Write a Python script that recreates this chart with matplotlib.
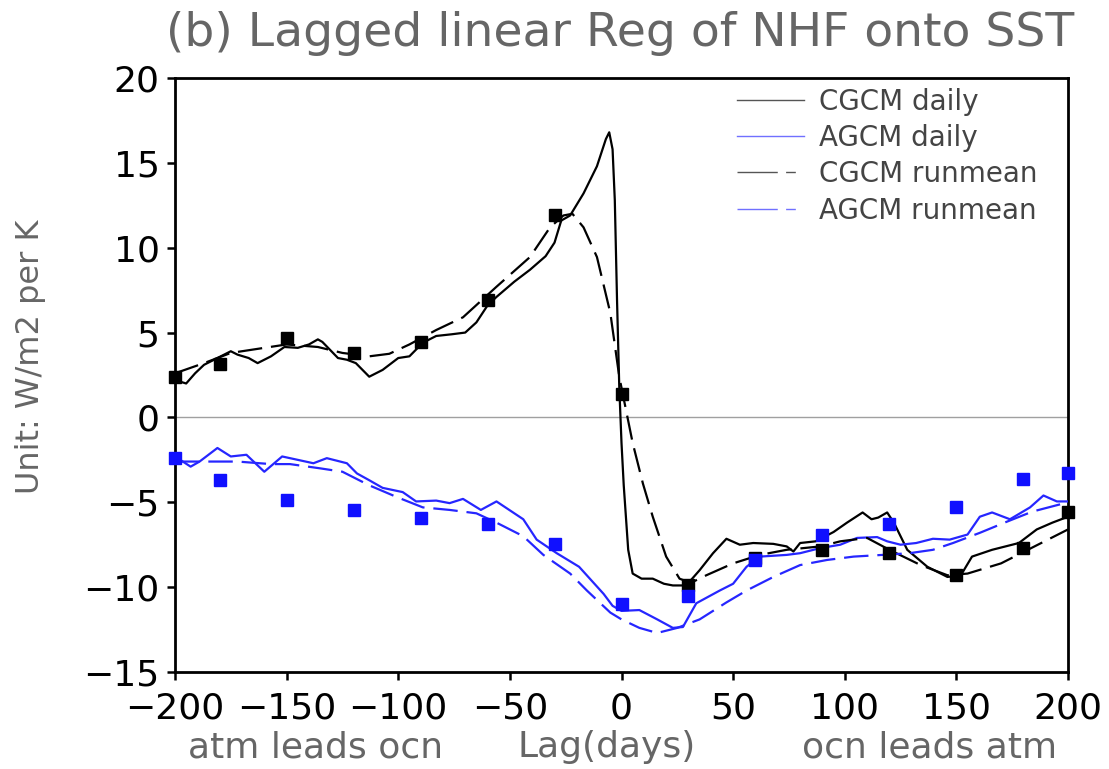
import matplotlib
matplotlib.use("Agg")
import matplotlib.pyplot as plt
from matplotlib.lines import Line2D

# ---------------- data ----------------
cgcm_daily_lag = [-200, -195, -191, -187, -181, -175, -172, -167, -163, -157, -151, -145, -140, -136, -134,
                  -127, -123, -119, -113, -107, -100, -95, -89, -83, -76, -70, -65, -60, -56, -48, -41,
                  -34, -30, -27, -23, -17, -11, -7, -5.5, -4, -3, -2, -1, 0, 1, 3, 5, 9, 14, 19, 23, 29,
                  35, 41, 47, 53, 59, 68, 74, 77, 80, 87, 95, 101, 108, 112, 115, 119, 122, 128, 137,
                  146, 152, 157, 166, 178, 186, 193, 200]
cgcm_daily_val = [2.2, 2.0, 2.6, 3.1, 3.5, 3.9, 3.7, 3.5, 3.2, 3.6, 4.15, 4.1, 4.3, 4.6, 4.45,
                  3.5, 3.4, 3.2, 2.4, 2.8, 3.5, 3.6, 4.4, 4.8, 4.9, 5.0, 5.6, 6.6, 7.1, 8.0, 8.7,
                  9.5, 10.3, 11.6, 11.9, 13.2, 14.8, 16.4, 16.8, 15.8, 12.8, 6.9, 1.8, -1.5, -4.0, -7.8,
                  -9.2, -9.5, -9.5, -9.8, -9.9, -9.9,
                  -9.0, -8.0, -7.15, -7.5, -7.4, -7.45, -7.6, -7.9, -7.4, -7.3, -6.75, -6.2, -5.6, -6.0,
                  -5.9, -5.6, -6.2, -7.8, -8.8, -9.4, -9.3, -8.2, -7.8, -7.4, -6.6, -6.2, -5.85]

agcm_daily_lag = [-200, -193, -189, -181, -175, -168, -160, -152, -138, -132, -123, -118.5, -113, -107,
                  -98, -92, -83, -77, -71, -63, -56, -44, -38, -29, -19, -8, -4, 0, 8, 16, 23, 27.5,
                  33.5, 44, 50, 56, 62, 74, 80, 89, 98, 105.5, 114.5, 119, 125, 132, 139.5, 147, 155,
                  160.5, 166, 174, 183, 189, 195, 200]
agcm_daily_val = [-2.3, -2.9, -2.6, -1.8, -2.3, -2.2, -3.2, -2.3, -2.7, -2.4, -2.7, -3.3, -3.7, -4.15,
                  -4.4, -4.95, -4.9, -5.05, -4.8, -5.45, -4.95, -6.0, -7.2, -8.0, -8.8, -10.4, -11.1,
                  -11.4, -11.35, -11.9, -12.4, -12.35, -10.95, -10.2, -9.8, -8.8, -8.2, -8.1, -8.0,
                  -7.7, -7.5, -7.1, -7.05, -7.3, -7.5, -7.4, -7.15, -7.2, -6.9, -5.85, -5.6, -6.0,
                  -5.3, -4.6, -4.95, -4.95]

cgcm_run_lag = [-200, -187, -175, -165, -150, -136, -125, -113, -104, -95, -83, -71, -56, -41, -32,
                -26, -22, -17, -11, -5, -1, 5, 9.6, 14, 20, 26, 31, 38, 50, 62, 74, 89, 98, 110, 120,
                134, 146, 155, 170, 182, 200]
cgcm_run_val = [2.6, 3.2, 3.8, 4.0, 4.3, 4.15, 3.8, 3.6, 3.75, 4.3, 5.15, 5.9, 7.7, 9.45, 11.2,
                11.9, 12.0, 11.2, 9.45, 6.15, 2.4, -1.5, -3.9, -5.85, -8.2, -9.5, -9.75, -9.3, -8.6,
                -8.1, -7.8, -7.6, -7.3, -7.1, -7.8, -8.7, -9.3, -9.2, -8.6, -7.8, -6.6]

agcm_run_lag = [-200, -184, -172, -157, -148.5, -135, -125, -113, -100.5, -89, -77, -65, -56, -44,
                -35, -23, -15.5, -5, 0, 8, 16, 25, 35, 47, 56, 68, 80, 92, 104, 117, 129, 139.5,
                148.5, 160.5, 172.5, 184, 200]
agcm_run_val = [-2.6, -2.6, -2.6, -2.75, -2.75, -3.0, -3.2, -4.0, -4.7, -5.3, -5.45, -5.65, -6.2, -7.0,
                -8.1, -9.2, -10.2, -11.5, -11.9, -12.4, -12.7, -12.4, -11.9, -10.9, -10.2, -9.4, -8.7,
                -8.4, -8.2, -8.1, -8.0, -7.8, -7.4, -6.8, -6.15, -5.55, -5.0]

mon_lag = [-200, -180, -150, -120, -90, -60, -30, 0, 30, 60, 90, 120, 150, 180, 200]
cgcm_mon = [2.4, 3.15, 4.7, 3.8, 4.45, 6.9, 11.9, 1.4, -9.9, -8.3, -7.8, -8.0, -9.3, -7.7, -5.6]
agcm_mon = [-2.4, -3.7, -4.85, -5.45, -5.9, -6.3, -7.45, -11.0, -10.5, -8.4, -6.9, -6.3, -5.3, -3.6, -3.3]

xticks = [-200, -150, -100, -50, 0, 50, 100, 150, 200]
yticks = [-15, -10, -5, 0, 5, 10, 15, 20]
legend_labels = ["CGCM daily", "AGCM daily", "CGCM runmean", "AGCM runmean"]
title = "(b) Lagged linear Reg of NHF onto SST"
ylabel = "Unit: W/m2 per K"
bottom_texts = ["atm leads ocn", "Lag(days)", "ocn leads atm"]

# ---------------- figure ----------------
plt.rcParams['font.family'] = ['DejaVu Sans']
fig = plt.figure(figsize=(11.09, 7.69), dpi=100)
ax = fig.add_axes([175/1109, 1 - 672/769, (1068-175)/1109, (672-78)/769])

BLUE = '#2626ff'
GRAY = '#666666'
dash = (11, 4)

ax.axhline(0, color='#a0a0a0', lw=1.0, zorder=1)
ax.plot(cgcm_daily_lag, cgcm_daily_val, color='black', lw=1.6, zorder=3)
ax.plot(agcm_daily_lag, agcm_daily_val, color=BLUE, lw=1.6, zorder=3)
ax.plot(cgcm_run_lag, cgcm_run_val, color='black', lw=1.6, dashes=dash, zorder=3)
ax.plot(agcm_run_lag, agcm_run_val, color=BLUE, lw=1.6, dashes=dash, zorder=3)
ax.plot(mon_lag, cgcm_mon, ls='none', marker='s', ms=9, color='black', zorder=4, clip_on=False)
ax.plot(mon_lag, agcm_mon, ls='none', marker='s', ms=9, color='#1010ff', mec='#1010ff', zorder=5,
        clip_on=False)

ax.set_xlim(-200, 200)
ax.set_ylim(-15, 20)
ax.set_xticks(xticks)
ax.set_yticks(yticks)
ax.set_xticklabels([f"{t}".replace('-', '\u2212') for t in xticks])
ax.set_yticklabels([f"{t}".replace('-', '\u2212') for t in yticks])
ax.tick_params(direction='out', length=6, width=1.8, labelsize=26, colors='black')
ax.tick_params(axis='x', pad=8)
ax.tick_params(axis='y', pad=5)
for s in ax.spines.values():
    s.set_linewidth(2.0)

ax.set_ylabel(ylabel, fontsize=23, color=GRAY)
ax.yaxis.set_label_coords(-0.145, 0.53)

fig.text(620/1109, 1 - 33/769, title, fontsize=34, color=GRAY, ha='center', va='center')

ax.text(0.157, -0.127, bottom_texts[0], transform=ax.transAxes, fontsize=26, color=GRAY,
        ha='center', va='center')
ax.text(0.483, -0.127, bottom_texts[1], transform=ax.transAxes, fontsize=26, color=GRAY,
        ha='center', va='center')
ax.text(0.845, -0.127, bottom_texts[2], transform=ax.transAxes, fontsize=26, color=GRAY,
        ha='center', va='center')

handles = [Line2D([], [], color='#555555', lw=1.0),
           Line2D([], [], color='#7070ff', lw=1.0),
           Line2D([], [], color='#555555', lw=1.0, dashes=(29, 6, 7, 100)),
           Line2D([], [], color='#7070ff', lw=1.0, dashes=(29, 6, 7, 100))]
leg = ax.legend(handles, legend_labels, loc='upper right', frameon=False, fontsize=20,
                handlelength=2.4, handletextpad=0.55, labelspacing=0.3,
                bbox_to_anchor=(0.985, 1.012), borderaxespad=0.2)
for t in leg.get_texts():
    t.set_color('#444444')

fig.savefig("out.png", dpi=100)
